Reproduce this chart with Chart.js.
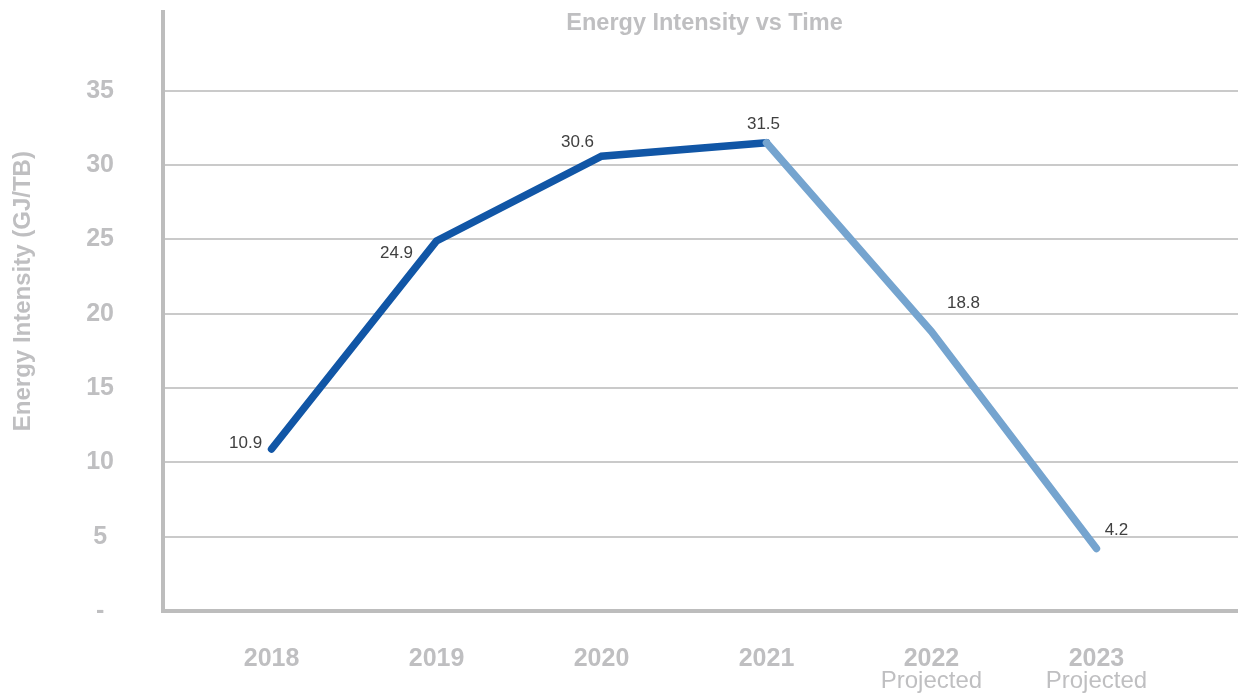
<!DOCTYPE html>
<html>
<head>
<meta charset="utf-8">
<title>Energy Intensity vs Time</title>
<script src="https://cdn.jsdelivr.net/npm/chart.js@4.4.1/dist/chart.umd.min.js"></script>
<style>
  html, body { margin: 0; padding: 0; background: #ffffff; }
  #wrap { width: 1238px; height: 696px; }
</style>
</head>
<body>
<div id="wrap"><canvas id="chart" width="1238" height="696"></canvas></div>
<script>
// Energy intensity by year (GJ/TB); the last two years are projections.
const years = [2018, 2019, 2020, 2021, 2022, 2023];
const intensity = [10.9, 24.9, 30.6, 31.5, 18.8, 4.2];
const projected = [false, false, false, false, true, true];
const yearSubLabels = ['', '', '', '', 'Projected', 'Projected'];
const yTickValues = [0, 5, 10, 15, 20, 25, 30, 35];

const chartTitle = 'Energy Intensity vs Time';
const yAxisTitle = 'Energy Intensity (GJ/TB)';

// Where each value label sits relative to its point (text centre, px).
const labelOffsets = [[-26, -6], [-40, 12], [-24, -14], [-3, -18], [32, -28], [20, -18]];

const FONT = '"Liberation Sans", Arial, Helvetica, sans-serif';
const AXIS_GREY = '#bfbfc1';
const ACTUAL_BLUE = '#1156a6';
const PROJECTED_BLUE = '#75a4cf';

const points = years.map((yr, i) => ({ x: yr, y: intensity[i] }));

// Title and rotated y-axis title drawn over the plot frame.
const titlesPlugin = {
  id: 'titles',
  afterDraw(chart) {
    const { ctx, chartArea } = chart;
    ctx.save();
    ctx.fillStyle = AXIS_GREY;
    ctx.font = 'bold 23.5px ' + FONT;
    ctx.textAlign = 'center';
    ctx.textBaseline = 'middle';
    ctx.fillText(chartTitle, (chartArea.left + chartArea.right) / 2 + 4, chartArea.top + 12);

    ctx.font = 'bold 24px ' + FONT;
    ctx.translate(23, chartArea.top + chartArea.height * 0.466);
    ctx.rotate(-Math.PI / 2);
    ctx.fillText(yAxisTitle, 0, 0);
    ctx.restore();
  }
};

// Second line under the year ticks ("Projected").
const subLabelPlugin = {
  id: 'subLabels',
  afterDraw(chart) {
    const { ctx } = chart;
    const xs = chart.scales.x;
    ctx.save();
    ctx.fillStyle = AXIS_GREY;
    ctx.font = '24px ' + FONT;
    ctx.textAlign = 'center';
    ctx.textBaseline = 'middle';
    years.forEach((yr, i) => {
      if (yearSubLabels[i]) {
        ctx.fillText(yearSubLabels[i], xs.getPixelForValue(yr), xs.top + 70);
      }
    });
    ctx.restore();
  }
};

// Value labels next to each point.
const valueLabelPlugin = {
  id: 'valueLabels',
  afterDatasetsDraw(chart) {
    const { ctx } = chart;
    const meta = chart.getDatasetMeta(0);
    ctx.save();
    ctx.fillStyle = '#404040';
    ctx.font = '17px ' + FONT;
    ctx.textAlign = 'center';
    ctx.textBaseline = 'middle';
    meta.data.forEach((pt, i) => {
      const [dx, dy] = labelOffsets[i];
      ctx.fillText(intensity[i].toFixed(1), pt.x + dx, pt.y + dy);
    });
    ctx.restore();
  }
};

new Chart(document.getElementById('chart'), {
  type: 'line',
  data: {
    datasets: [{
      data: points,
      borderWidth: 7.5,
      borderColor: ACTUAL_BLUE,
      borderCapStyle: 'round',
      borderJoinStyle: 'miter',
      pointRadius: 0,
      pointHoverRadius: 0,
      tension: 0,
      segment: {
        borderColor: ctx => projected[ctx.p1DataIndex] ? PROJECTED_BLUE : ACTUAL_BLUE
      }
    }]
  },
  options: {
    responsive: false,
    animation: false,
    devicePixelRatio: 1,
    layout: { padding: 0 },
    plugins: {
      legend: { display: false },
      title: { display: false },
      tooltip: { enabled: false }
    },
    scales: {
      x: {
        type: 'linear',
        min: 2017.342,
        max: 2023.858,
        afterBuildTicks: scale => { scale.ticks = years.map(v => ({ value: v })); },
        afterFit: scale => { scale.height = 85; },
        grid: { color: 'rgba(0,0,0,0)', drawTicks: false },
        border: { display: true, color: '#bdbdbd', width: 4 },
        ticks: {
          padding: 33,
          color: AXIS_GREY,
          font: { family: FONT, size: 25, weight: 'bold' },
          maxRotation: 0,
          autoSkip: false,
          callback: v => String(v)
        }
      },
      y: {
        min: 0,
        max: 40.3,
        afterBuildTicks: scale => { scale.ticks = yTickValues.map(v => ({ value: v })); },
        afterFit: scale => { scale.width = 163; },
        grid: {
          color: '#cacaca',
          lineWidth: 2,
          drawTicks: true,
          tickLength: 49,
          tickColor: 'rgba(0,0,0,0)'
        },
        border: { display: true, color: '#bdbdbd', width: 4 },
        ticks: {
          padding: 0,
          crossAlign: 'center',
          color: AXIS_GREY,
          font: { family: FONT, size: 25, weight: 'bold', lineHeight: 0.96 },
          callback: v => v === 0 ? '-' : String(v)
        }
      }
    }
  },
  plugins: [titlesPlugin, subLabelPlugin, valueLabelPlugin]
});
</script>
</body>
</html>
